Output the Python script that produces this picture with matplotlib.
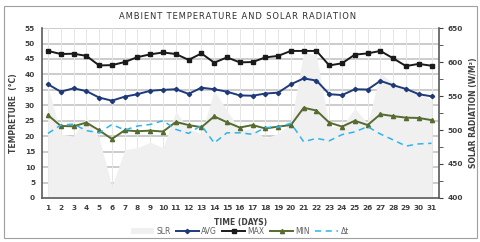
import matplotlib
matplotlib.use("Agg")
import matplotlib.pyplot as plt
from matplotlib.patches import Rectangle
from matplotlib.ticker import MultipleLocator

days = list(range(1, 32))
t_max = [47.6, 46.6, 46.7, 46.0, 42.9, 43.0, 44.0, 45.6, 46.5, 47.1, 46.6, 44.7, 46.8, 43.8, 45.5,
         43.9, 44.0, 45.5, 46.0, 47.6, 47.6, 47.6, 42.9, 43.6, 46.4, 46.8, 47.6, 45.2, 42.7, 43.4, 42.8]
t_avg = [36.8, 34.4, 35.5, 34.6, 32.5, 31.5, 32.8, 33.6, 34.7, 35.0, 35.2, 33.7, 35.7, 35.2, 34.4,
         33.2, 33.1, 33.8, 34.1, 36.8, 38.7, 38.0, 33.6, 33.3, 35.2, 35.1, 37.9, 36.5, 35.3, 33.6, 32.9]
t_min = [26.8, 23.3, 23.2, 24.4, 21.9, 19.1, 21.9, 21.6, 21.8, 21.5, 24.6, 23.6, 22.9, 26.4, 24.5,
         22.8, 23.6, 22.5, 23.1, 23.6, 29.2, 28.3, 24.4, 23.1, 25.0, 23.6, 27.1, 26.5, 26.0, 25.9, 25.2]
delta_t = [20.9, 23.6, 23.9, 21.8, 21.1, 23.8, 22.0, 23.3, 23.8, 25.0, 22.2, 20.9, 23.5, 17.8, 21.1,
           21.1, 20.6, 22.8, 22.9, 24.2, 18.2, 19.3, 18.5, 20.5, 21.4, 23.1, 20.7, 18.8, 16.8, 17.5, 17.7]
slr = [564, 494, 491, 519, 488, 417, 471, 474, 482, 474, 527, 502, 494, 558, 529,
       500, 502, 488, 495, 510, 615, 610, 505, 505, 532, 510, 583, 569, 561, 554, 544]

c_max = "#1a1a1a"
c_avg = "#1f3a78"
c_min = "#556b2f"
c_dt = "#2eb4ec"
c_slr = "#f0f0f0"
c_txt = "#404040"
XLIM = (0.53, 31.6)

fig = plt.figure(figsize=(4.8, 2.42), dpi=100)
fig.patches.append(Rectangle((0.008, 0.017), 0.985, 0.96, transform=fig.transFigure,
                             fill=False, edgecolor="#a0a0a0", linewidth=0.8))

pos = [0.0875, 0.182, 0.8275, 0.702]
ax0 = fig.add_axes(pos, zorder=0)
ax0.set_ylim(0, 55)
ax0.set_xlim(*XLIM)
for y in range(5, 56, 5):
    ax0.axhline(y, color="#c8c8c8", lw=1.3, zorder=0)
for x in days:
    ax0.axvline(x, color="#e6e6e6", lw=0.7, zorder=0)
ax0.tick_params(left=False, bottom=False, labelleft=False, labelbottom=False)
for s in ax0.spines.values():
    s.set_visible(False)

ax1 = fig.add_axes(pos, zorder=2)
ax1.patch.set_visible(False)
ax2 = ax1.twinx()
ax2.set_zorder(1)
ax2.patch.set_visible(False)

ax2.fill_between(days, 400, slr, color=c_slr, lw=0, label="SLR")
ax2.set_ylim(400, 650)
ax2.yaxis.set_major_locator(MultipleLocator(50))
ax2.yaxis.set_minor_locator(MultipleLocator(25))

ax1.plot(days, t_avg, color=c_avg, lw=1.4, marker="D", ms=2.2, label="AVG")
ax1.plot(days, t_max, color=c_max, lw=1.4, marker="s", ms=2.6, label="MAX")
ax1.plot(days, t_min, color=c_min, lw=1.4, marker="^", ms=3.0, label="MIN")
ax1.plot(days, delta_t, color=c_dt, lw=1.1, ls=(0, (4, 3)), label="Δt")
ax1.set_ylim(0, 55)
ax1.set_xlim(*XLIM)
ax1.yaxis.set_major_locator(MultipleLocator(5))
ax1.set_xticks(days)

for ax in (ax1, ax2):
    for s in ax.spines.values():
        s.set_visible(False)
ax1.spines["left"].set_visible(True)
ax1.spines["bottom"].set_visible(True)
ax2.spines["right"].set_visible(True)
for s in (ax1.spines["left"], ax1.spines["bottom"], ax2.spines["right"]):
    s.set_color("#5a5a5a")
    s.set_linewidth(1.2)

ax1.tick_params(axis="both", length=0, labelsize=5.3, colors=c_txt, pad=5)
ax2.tick_params(axis="y", which="major", length=3, labelsize=5.3, colors=c_txt, pad=3)
ax2.tick_params(axis="y", which="minor", length=3, color=c_txt)
for lab in ax1.get_xticklabels() + ax1.get_yticklabels() + ax2.get_yticklabels():
    lab.set_fontweight("bold")

ax1.set_ylabel("TEMPRETURE  (°C)", fontsize=5.5, fontweight="bold", color=c_txt, labelpad=5)
ax2.set_ylabel("SOLAR RADIATION (W/M²)", fontsize=5.5, fontweight="bold", color=c_txt, labelpad=4)
ax1.set_xlabel("TIME (DAYS)", fontsize=5.5, fontweight="bold", color=c_txt, labelpad=5)

title = "AMBIENT TEMPERATURE AND SOLAR RADIATION"
fig.text(0.495, 0.93, "\u200a".join(title),
         ha="center", va="center", fontsize=6.0, color="#303030", family="DejaVu Sans")

h2, l2 = ax2.get_legend_handles_labels()
h1, l1 = ax1.get_legend_handles_labels()
leg = fig.legend(h2 + h1, l2 + l1, loc="center", bbox_to_anchor=(0.5, 0.045), ncol=5,
                 frameon=False, fontsize=5.5, handlelength=3.0, columnspacing=0.7,
                 handletextpad=0.3, labelcolor="#606060")

fig.savefig("out.png", dpi=100)
